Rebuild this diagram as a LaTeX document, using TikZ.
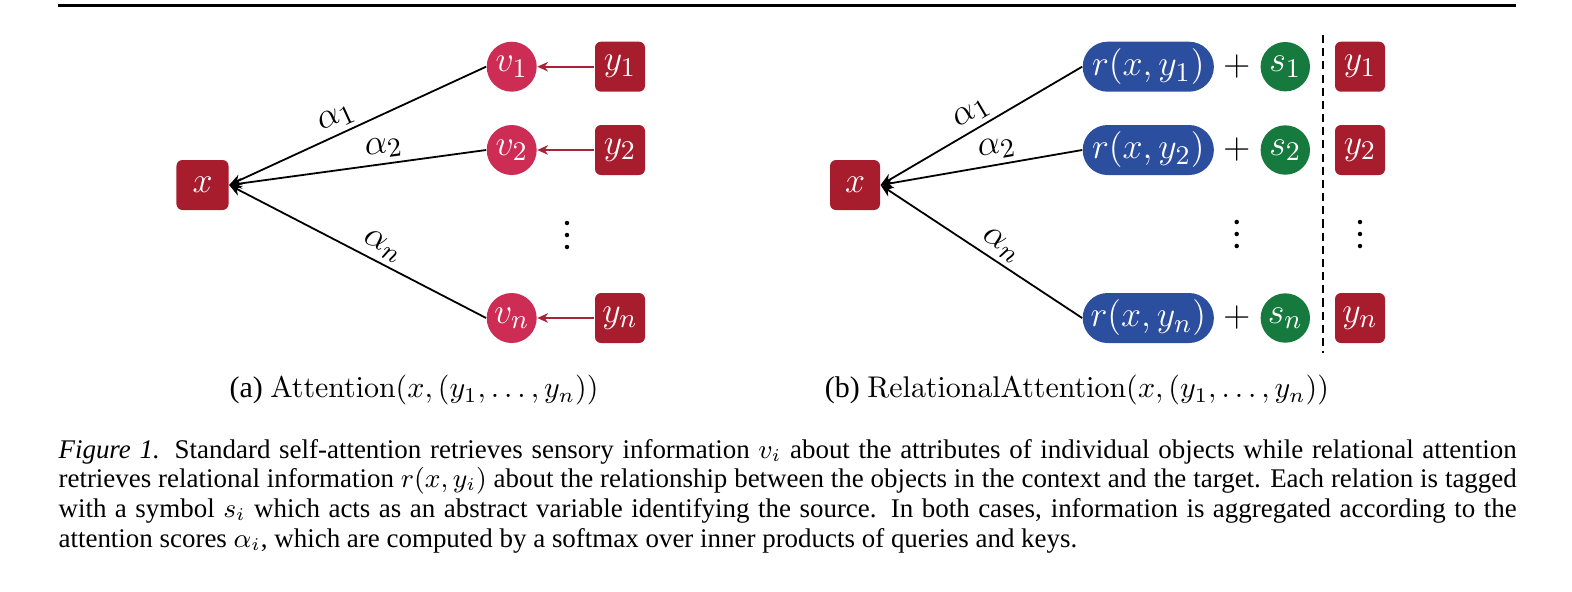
\documentclass[tikz,border=0pt]{standalone}
\usepackage[no-math]{fontspec}
\setmainfont{Liberation Serif}
\usetikzlibrary{arrows.meta}
\definecolor{boxred}{RGB}{168,29,45}
\definecolor{vpink}{RGB}{205,44,84}
\definecolor{relblue}{RGB}{44,78,158}
\definecolor{symgreen}{RGB}{22,122,62}
\definecolor{feedred}{RGB}{168,35,55}
\begin{document}
\begin{tikzpicture}[x=0.334pt,y=-0.334pt,
	every node/.style={font=\fontsize{13}{15}\selectfont},
	sqbox/.style={fill=boxred,text=white,rounded corners=2pt,minimum size=16.7pt,inner sep=0pt},
	vcirc/.style={circle,fill=vpink,text=white,minimum size=16.7pt,inner sep=0pt},
	relbox/.style={fill=relblue,text=white,rounded corners=8.3pt,minimum width=43.8pt,minimum height=16.7pt,inner sep=0pt},
	symcirc/.style={circle,fill=symgreen,text=white,minimum size=16.5pt,inner sep=0pt},
	attn/.style={-{Stealth[length=4.2pt,width=3.6pt]},line width=0.6pt},
	feed/.style={-{Stealth[length=3.6pt,width=3.2pt]},line width=0.6pt,feedred},
	score/.style={sloped,above=1.5pt,inner sep=0pt}]
	\useasboundingbox (0,0) rectangle (1572,591);
	\def\dotr{0.75pt}
	\coordinate (rl) at (58,5);
	\coordinate (rr) at (1516,5);
	\draw[line width=1pt] (rl) -- (rr);
%	(a) plain attention
	\node[sqbox,minimum width=17.4pt] (xa) at (202.5,185) {$x$};
	\node[vcirc] (va1) at (511.7,66.7) {$v_1$};
	\node[vcirc] (va2) at (511.7,150) {$v_2$};
	\node[vcirc] (van) at (511.7,318) {$v_n$};
	\node[sqbox] (ya1) at (620,66.7) {$y_1$};
	\node[sqbox] (ya2) at (620,150) {$y_2$};
	\node[sqbox] (yan) at (620,318) {$y_n$};
	\fill (567,223) circle (\dotr) (567,235) circle (\dotr) (567,247) circle (\dotr);
	\draw[feed] (ya1) -- (va1);
	\draw[feed] (ya2) -- (va2);
	\draw[feed] (yan) -- (van);
	\draw[attn] (va1.west) -- (xa.east) node[score,pos=0.556] {$\alpha_1$};
	\draw[attn] (va2.west) -- (xa.east) node[score,pos=0.39] {$\alpha_2$};
	\draw[attn] (van.west) -- (xa.east) node[score,pos=0.43] {$\alpha_n$};
	\node[anchor=base,font=\fontsize{10}{12}\selectfont] (capa) at (414,397.7)
		{(a) $\mathrm{Attention}(x,(y_1,\ldots,y_n))$};
%	(b) relational attention
	\node[sqbox] (xb) at (855,185) {$x$};
	\node[relbox] (r1) at (1148.3,66.7) {$r(x,y_1)$};
	\node[relbox] (r2) at (1148.3,150) {$r(x,y_2)$};
	\node[relbox] (rn) at (1148.3,318) {$r(x,y_n)$};
	\node (p1) at (1236.7,66.7) {$+$};
	\node (p2) at (1236.7,150) {$+$};
	\node (pn) at (1236.7,318) {$+$};
	\node[symcirc] (s1) at (1285.3,66.7) {$s_1$};
	\node[symcirc] (s2) at (1285.3,150) {$s_2$};
	\node[symcirc] (sn) at (1285.3,318) {$s_n$};
	\node[sqbox] (yb1) at (1360,66.7) {$y_1$};
	\node[sqbox] (yb2) at (1360,150) {$y_2$};
	\node[sqbox] (ybn) at (1360,318) {$y_n$};
	\fill (1236.7,222) circle (\dotr) (1236.7,234) circle (\dotr) (1236.7,246) circle (\dotr);
	\fill (1360,222) circle (\dotr) (1360,234) circle (\dotr) (1360,246) circle (\dotr);
	\coordinate (dtop) at (1323,35);
	\coordinate (dbot) at (1323,353);
	\draw[line width=0.65pt,dash pattern=on 2.7pt off 1.7pt] (dtop) -- (dbot);
	\draw[attn] (r1.west) -- (xb.east) node[score,pos=0.508] {$\alpha_1$};
	\draw[attn] (r2.west) -- (xb.east) node[score,pos=0.41] {$\alpha_2$};
	\draw[attn] (rn.west) -- (xb.east) node[score,pos=0.444] {$\alpha_n$};
	\node[anchor=base,font=\fontsize{10}{12}\selectfont] (capb) at (1077,397.7)
		{(b) $\mathrm{RelationalAttention}(x,(y_1,\ldots,y_n))$};
%	caption
	\node[anchor=base west,text width=487pt,align=justify,inner sep=0pt,
		font=\fontsize{9}{10}\selectfont] (cap) at (58,458)
		{\textit{Figure 1.} Standard self-attention retrieves sensory information $v_i$ about the attributes of individual objects while relational attention\linebreak
		retrieves relational information $r(x,y_i)$ about the relationship between the objects in the context and the target. Each relation is tagged\linebreak
		with a symbol $s_i$ which acts as an abstract variable identifying the source. In both cases, information is aggregated according to the\linebreak
		attention scores $\alpha_i$, which are computed by a softmax over inner products of queries and keys.};
\end{tikzpicture}
\end{document}
